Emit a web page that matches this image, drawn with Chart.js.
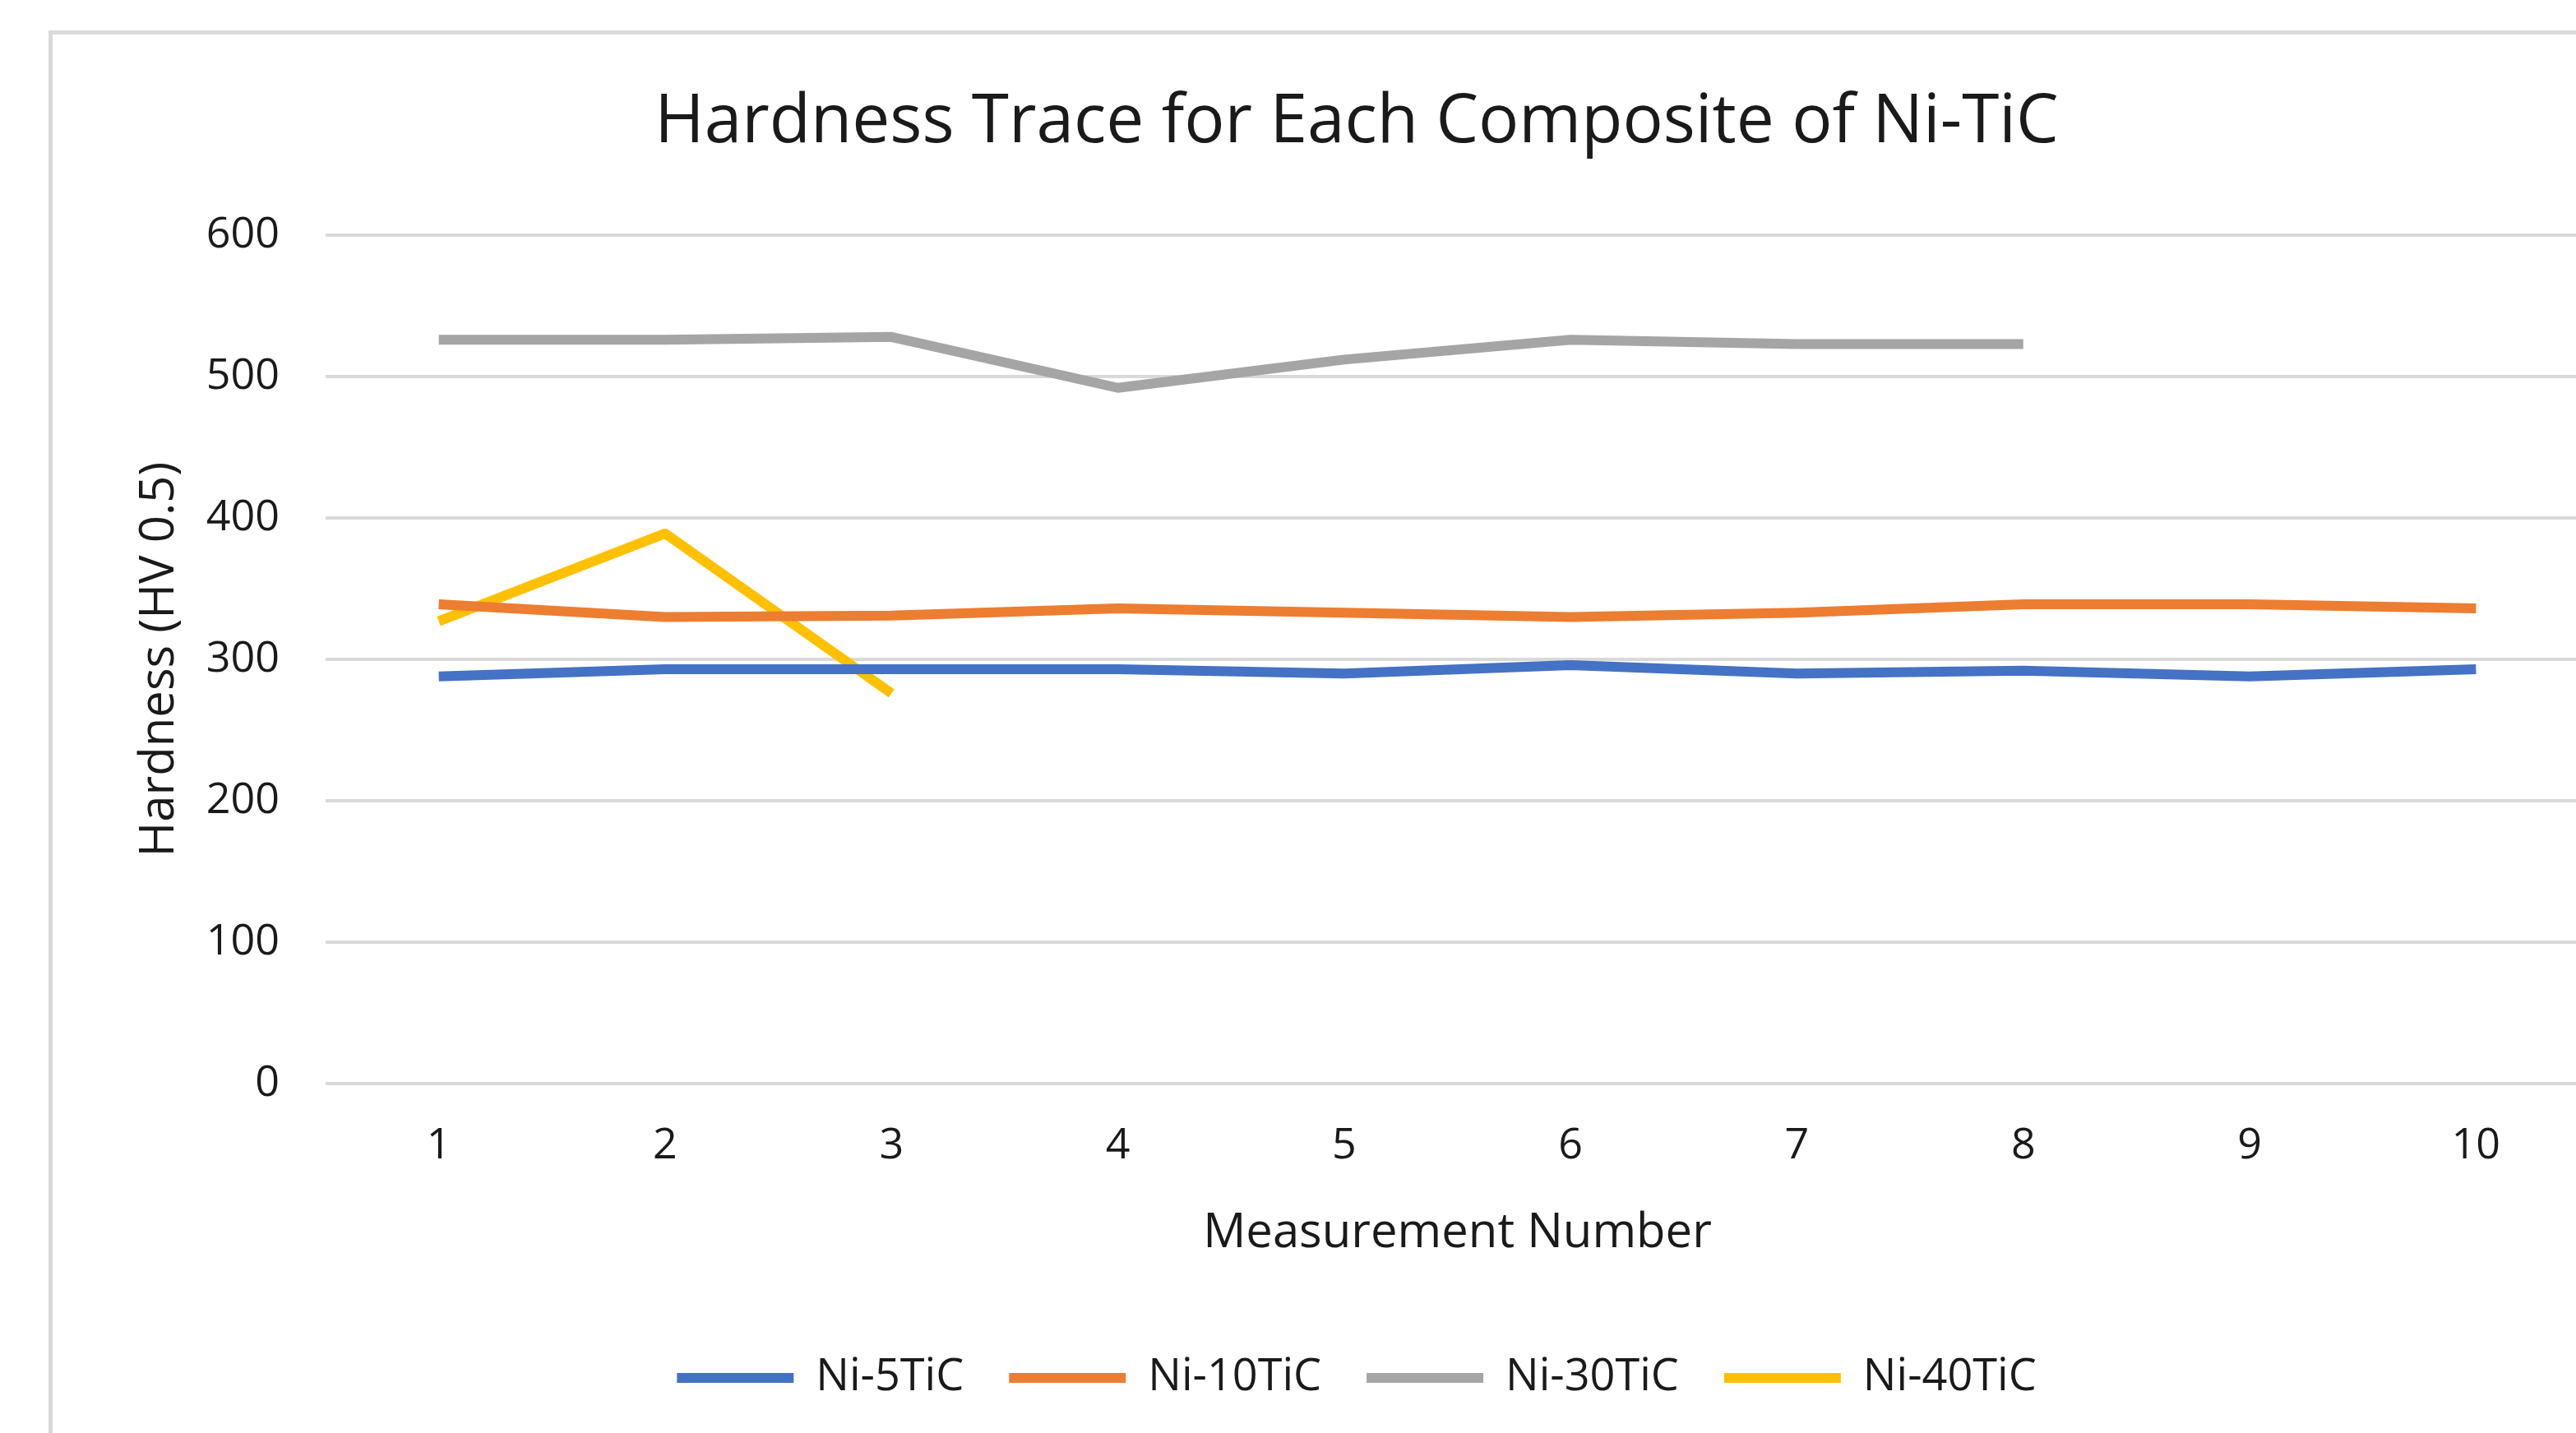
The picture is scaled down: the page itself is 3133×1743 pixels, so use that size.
<!DOCTYPE html>
<html>
<head>
<meta charset="utf-8">
<script src="https://cdn.jsdelivr.net/npm/chart.js@4"></script>
<style>
  html, body { margin: 0; padding: 0; background: #fff; overflow: hidden; width: 3133px; height: 1743px; }
  #frame { position: absolute; left: 59px; top: 37px; width: 3300px; height: 1900px; border-left: 5px solid #d9d9d9; border-top: 5px solid #d9d9d9; }
  #chartBox { position: absolute; left: 64px; top: 42px; width: 3172px; height: 1701px; }
</style>
</head>
<body>
<div id="frame"></div>
<div id="chartBox"><canvas id="hardnessChart" width="3172" height="1701"></canvas></div>
<script>
'use strict';

const measurements = ['1', '2', '3', '4', '5', '6', '7', '8', '9', '10'];
const ni5TiC = [288, 293, 293, 293, 290, 296, 290, 292, 288, 293];
const ni10TiC = [339, 330, 331, 336, 333, 330, 333, 339, 339, 336];
const ni30TiC = [526, 526, 528, 492, 512, 526, 523, 523];
const ni40TiC = [327, 389, 276];
const seriesNames = ['Ni-5TiC', 'Ni-10TiC', 'Ni-30TiC', 'Ni-40TiC'];
const seriesColors = ['#4472c4', '#ed7d31', '#a5a5a5', '#ffc000'];
const yTicks = [0, 100, 200, 300, 400, 500, 600];

const textColor = '#1a1a1a';
const fontFamily = '"Open Sans", "Noto Sans", sans-serif';

function makeSet(i, values) {
    return {
        label: seriesNames[i],
        data: values,
        borderColor: seriesColors[i],
        backgroundColor: seriesColors[i],
        borderWidth: 12,
        pointRadius: 0,
        pointHoverRadius: 0,
        tension: 0,
        borderJoinStyle: 'round',
        fill: false
    };
}

const CHART = document.getElementById('hardnessChart');

let hardnessChart = new Chart(CHART, {
    type: 'line',
    data: {
        labels: measurements,
        datasets: [
            makeSet(0, ni5TiC),
            makeSet(1, ni10TiC),
            makeSet(2, ni30TiC),
            makeSet(3, ni40TiC)
        ]
    },
    options: {
        responsive: false,
        animation: false,
        devicePixelRatio: 1,
        layout: {
            padding: { left: 87, right: 87, top: 0, bottom: 30 }
        },
        plugins: {
            tooltip: { enabled: false },
            title: {
                display: true,
                text: 'Hardness Trace for Each Composite of Ni-TiC',
                color: textColor,
                font: { family: fontFamily, size: 82, weight: 'normal', lineHeight: 1.2 },
                padding: { top: 58.8, bottom: 86.8 }
            },
            legend: {
                position: 'bottom',
                labels: {
                    color: textColor,
                    font: { family: fontFamily, size: 54, lineHeight: 1.2 },
                    usePointStyle: true,
                    pointStyle: 'line',
                    pointStyleWidth: 142,
                    padding: 55
                }
            }
        },
        scales: {
            x: {
                offset: true,
                grid: { display: false, drawTicks: false },
                border: { display: false },
                ticks: {
                    color: textColor,
                    font: { family: fontFamily, size: 52, lineHeight: 1.2 },
                    padding: 44.8,
                    maxRotation: 0
                },
                title: {
                    display: true,
                    text: 'Measurement Number',
                    color: textColor,
                    font: { family: fontFamily, size: 58, lineHeight: 1.2 },
                    padding: { top: 0, bottom: 59.2 }
                },
                afterFit: (scale) => { scale.height = 276; }
            },
            y: {
                min: yTicks[0],
                max: yTicks[yTicks.length - 1],
                afterBuildTicks: (scale) => { scale.ticks = yTicks.map(v => ({ value: v })); },
                grid: { color: '#d9d9d9', lineWidth: 4, drawTicks: false },
                border: { display: false },
                ticks: {
                    color: textColor,
                    font: { family: fontFamily, size: 52, lineHeight: 1.2 },
                    padding: 56
                },
                title: {
                    display: true,
                    text: 'Hardness (HV 0.5)',
                    color: textColor,
                    font: { family: fontFamily, size: 58, lineHeight: 1.2 },
                    padding: { top: 8.2, bottom: 0 }
                },
                afterFit: (scale) => { scale.width = 245; }
            }
        }
    }
});
</script>
</body>
</html>
